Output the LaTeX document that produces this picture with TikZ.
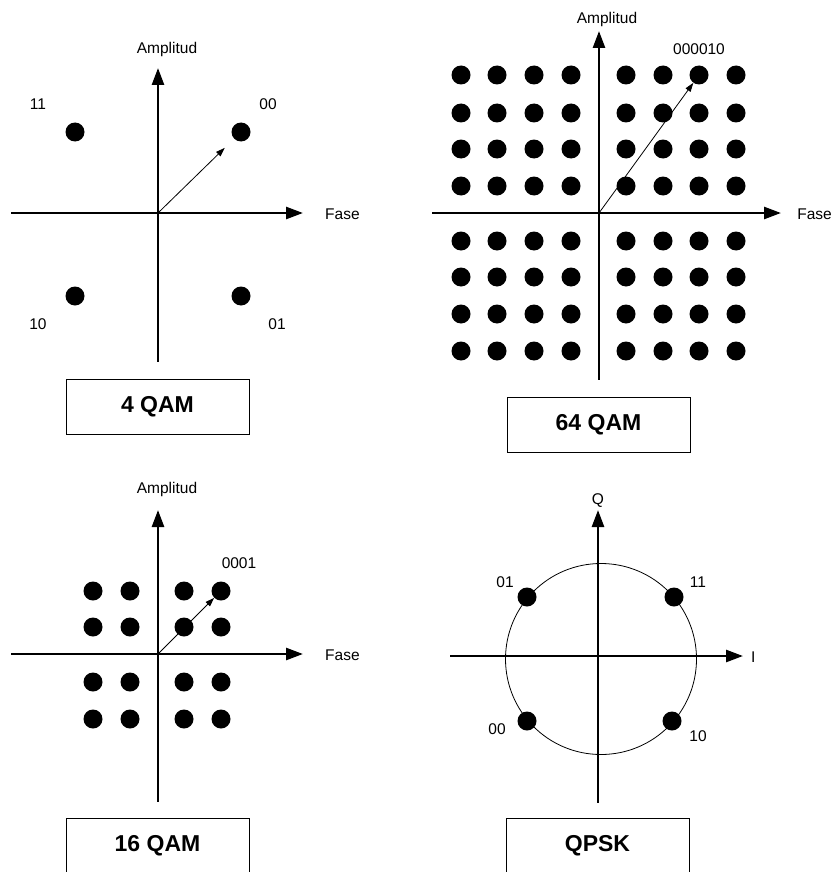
\documentclass[tikz,border=0pt]{standalone}
\usepackage{fontspec}
\setmainfont{Liberation Sans}
\usetikzlibrary{arrows.meta}
\begin{document}
\begin{tikzpicture}[x=1pt,y=-1pt,
  axis/.style={line width=2.6pt,-{Triangle[length=17pt,width=12pt]}},
  vec/.style={line width=0.8pt,-{Triangle[length=9pt,width=6pt]}},
  dot/.style={circle,fill=black,inner sep=0pt,minimum size=19pt},
  lbl/.style={font=\fontsize{15.5}{17}\selectfont,inner sep=0pt},
  title/.style={draw,line width=0.8pt,minimum width=183pt,minimum height=55pt,font=\fontsize{23}{26}\selectfont\bfseries}]
\useasboundingbox (0,0) rectangle (833,872);

% ---------- 4 QAM ----------
\coordinate (o1) at (158,213);
\coordinate (t1) at (158,68);
\coordinate (b1) at (158,362);
\coordinate (l1) at (11,213);
\coordinate (r1) at (303,213);
\draw[line width=2.6pt] (o1) -- (b1);
\draw[line width=2.6pt] (l1) -- (o1);
\draw[axis] (o1) -- (t1);
\draw[axis] (o1) -- (r1);
\node[lbl] (amp1) at (167,49) {Amplitud};
\node[lbl,anchor=west] (fase1) at (325,214) {Fase};
\node[dot] (q11) at (75,132) {};
\node[dot] (q00) at (241,132) {};
\node[dot] (q10) at (75,296) {};
\node[dot] (q01) at (241,296) {};
\node[lbl] (l11) at (38,104) {11};
\node[lbl] (l00) at (268,104) {00};
\node[lbl] (l10) at (38,324) {10};
\node[lbl] (l01) at (277,324) {01};
\draw[vec,shorten >=13pt] (o1) -- (q00);
\node[title] (tt1) at (157.5,406.5) {4 QAM};

% ---------- 64 QAM ----------
\coordinate (o2) at (599,213);
\coordinate (t2) at (599,31);
\coordinate (b2) at (599,380);
\coordinate (l2) at (432,213);
\coordinate (r2) at (781,213);
\draw[line width=2.6pt] (o2) -- (b2);
\draw[line width=2.6pt] (l2) -- (o2);
\draw[axis] (o2) -- (t2);
\draw[axis] (o2) -- (r2);
\node[lbl] (amp2) at (607,19) {Amplitud};
\node[lbl,anchor=east] (fase2) at (832,214) {Fase};
\foreach \i/\xx in {1/461,2/497,3/534,4/571,5/626,6/663,7/699,8/736}{
  \foreach \j/\yy in {1/75,2/113,3/149,4/186,5/241,6/277,7/314,8/351}{
    \node[dot] (s\i\j) at (\xx,\yy) {};
  }
}
\node[lbl] (l000010) at (699,49) {000010};
\draw[vec] (o2) -- (s71);
\node[title] (tt2) at (598.5,425) {64 QAM};

% ---------- 16 QAM ----------
\coordinate (o3) at (158,654);
\coordinate (t3) at (158,510);
\coordinate (b3) at (158,802);
\coordinate (l3) at (11,654);
\coordinate (r3) at (303,654);
\draw[line width=2.6pt] (o3) -- (b3);
\draw[line width=2.6pt] (l3) -- (o3);
\draw[axis] (o3) -- (t3);
\draw[axis] (o3) -- (r3);
\node[lbl] (amp3) at (167,489) {Amplitud};
\node[lbl,anchor=west] (fase3) at (325,655) {Fase};
\foreach \i/\xx in {1/93,2/130,3/184,4/221}{
  \foreach \j/\yy in {1/591,2/627,3/682,4/719}{
    \node[dot] (m\i\j) at (\xx,\yy) {};
  }
}
\node[lbl] (l0001) at (239,563) {0001};
\draw[vec] (o3) -- (m41);
\node[title] (tt3) at (157.5,846) {16 QAM};

% ---------- QPSK ----------
\coordinate (o4) at (598,656);
\coordinate (t4) at (598,510);
\coordinate (b4) at (598,803);
\coordinate (l4) at (450,656);
\coordinate (r4) at (743,656);
\node[draw,circle,line width=0.8pt,minimum size=191pt,inner sep=0pt] (ring) at (601,659) {};
\draw[line width=2.6pt] (o4) -- (b4);
\draw[line width=2.6pt] (l4) -- (o4);
\draw[axis] (o4) -- (t4);
\draw[axis] (o4) -- (r4);
\node[lbl] (qlab) at (598,501) {Q};
\node[lbl,anchor=west] (ilab) at (751,657) {I};
\node[dot] (p01) at (527,597) {};
\node[dot] (p11) at (674,597) {};
\node[dot] (p00) at (527,721) {};
\node[dot] (p10) at (672,721) {};
\node[lbl] (lp01) at (505,582) {01};
\node[lbl] (lp11) at (698,582) {11};
\node[lbl] (lp00) at (497,729) {00};
\node[lbl] (lp10) at (698,736) {10};
\node[title] (tt4) at (597.5,846) {QPSK};
\end{tikzpicture}
\end{document}
